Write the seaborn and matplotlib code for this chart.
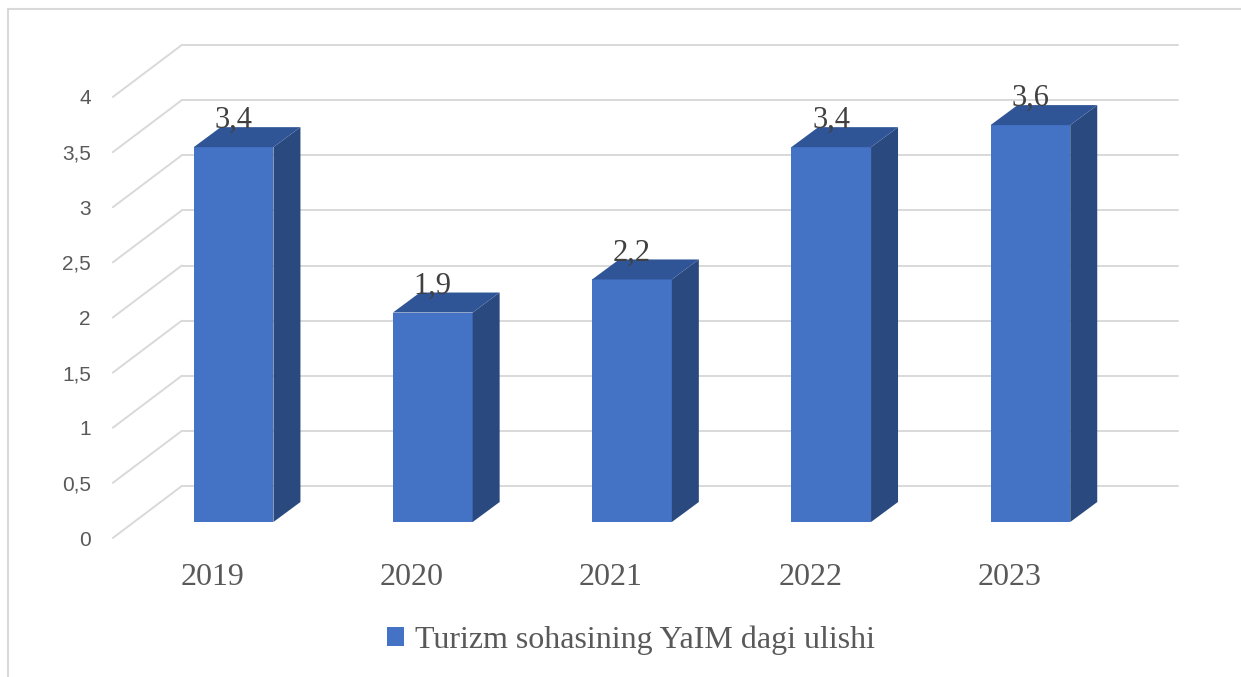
import matplotlib
matplotlib.use("Agg")
import matplotlib.pyplot as plt
import seaborn as sns
from matplotlib.patches import Polygon, Rectangle
from matplotlib.transforms import ScaledTranslation

years = ["2019", "2020", "2021", "2022", "2023"]
share = [3.4, 1.9, 2.2, 3.4, 3.6]
y_ticks = [0, 0.5, 1, 1.5, 2, 2.5, 3, 3.5, 4]
y_labels = ["0", "0,5", "1", "1,5", "2", "2,5", "3", "3,5", "4"]
series_name = "Turizm sohasining YaIM dagi ulishi"

FRONT = "#4472C4"
TOP = "#2F5597"
SIDE = "#2A4A7F"
GRID = "#D9D9D9"
TXT = "#595959"

W, H = 1241, 677
sns.set_style("white")
plt.rcParams["font.family"] = ["Liberation Sans", "DejaVu Sans"]

fig = plt.figure(figsize=(W / 100, H / 100), dpi=100)
# axes = the plane of the bars' front faces (pixels: x 134..1130, y 522..81)
ax = fig.add_axes([134 / W, (H - 522) / H, 996 / W, 441 / H])

sns.barplot(x=years, y=share, color=FRONT, saturation=1, width=0.4,
            label=series_name, ax=ax, zorder=3, linewidth=0, edgecolor=FRONT)
bars = list(ax.patches)
ax.set_xlim(-0.5, 4.5)
ax.set_ylim(0, 4)
ax.axis("off")

px_x = 996 / 5.0   # pixels per x unit
px_y = 441 / 4.0   # pixels per y unit


def shift(dx, dy):
    return ax.transData + ScaledTranslation(dx / 100, dy / 100, fig.dpi_scale_trans)


# floor/back wall grid: front edge 16px below, back edge 36px above bar plane
fdx, fdy = -21.2, -16
bdx, bdy = 47.8, 36
for v, lab in zip(y_ticks, y_labels):
    ax.plot([-0.5 + fdx / px_x, -0.5 + bdx / px_x],
            [v + fdy / px_y, v + bdy / px_y],
            color=GRID, lw=1.4, clip_on=False, zorder=1)
    ax.plot([-0.5, 4.5], [v, v], color=GRID, lw=1.4, clip_on=False,
            zorder=1, transform=shift(bdx, bdy))
    ax.text(-0.5, v, lab, transform=shift(fdx - 22, fdy), ha="right",
            va="center_baseline", fontsize=15, color=TXT)

# 3d depth of bars
ddx, ddy = 27 / px_x, 20 / px_y
for b, v in zip(bars, share):
    x0, w, h = b.get_x(), b.get_width(), b.get_height()
    side = [(x0 + w, 0), (x0 + w + ddx, ddy), (x0 + w + ddx, h + ddy), (x0 + w, h)]
    top = [(x0, h), (x0 + ddx, h + ddy), (x0 + w + ddx, h + ddy), (x0 + w, h)]
    ax.add_patch(Polygon(side, closed=True, facecolor=SIDE, edgecolor="none",
                         zorder=3, clip_on=False))
    ax.add_patch(Polygon(top, closed=True, facecolor=TOP, edgecolor="none",
                         zorder=3, clip_on=False))
    b.set_clip_on(False)
    ax.text(x0 + w / 2, h, f"{v:.1f}".replace(".", ","), transform=shift(0, 19),
            ha="center", va="baseline", fontsize=22, color="#404040",
            family="Liberation Serif", zorder=5)

for i, yr in enumerate(years):
    ax.text(i, 0, yr, transform=shift(-21, -63), ha="center", va="baseline",
            fontsize=23, color=TXT, family="Liberation Serif")

leg = ax.legend(loc="center", bbox_to_anchor=(631 / W, (H - 640) / H),
                bbox_transform=fig.transFigure, frameon=False,
                handlelength=0.53, handleheight=0.53, handletextpad=0.35,
                prop={"family": "Liberation Serif", "size": 23})
for t in leg.get_texts():
    t.set_color(TXT)

fig.add_artist(Rectangle((8 / W, -0.1), 1.2, (H - 9) / H + 0.1,
                         transform=fig.transFigure, fill=False,
                         edgecolor=GRID, lw=1.5))

fig.savefig("out.png", dpi=100)
